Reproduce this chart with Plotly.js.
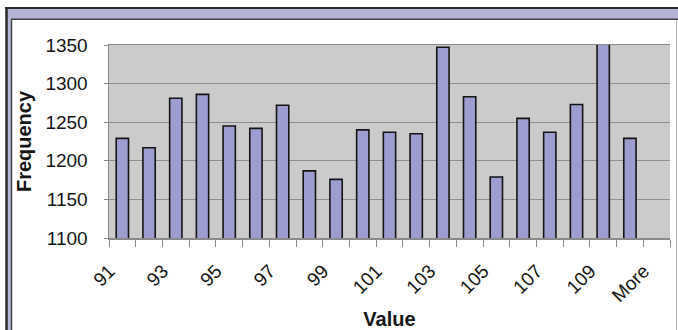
<!DOCTYPE html>
<html>
<head>
<meta charset="utf-8">
<script src="https://cdn.plot.ly/plotly-3.0.1.min.js"></script>
<style>
  html, body { margin: 0; padding: 0; background: #ffffff; }
  #chart { width: 678px; height: 330px; }
</style>
</head>
<body>
<div id="chart"></div>
<script>
// ---- data ----
const bins = ["91","92","93","94","95","96","97","98","99","100",
              "101","102","103","104","105","106","107","108","109","110","More"];
const frequency = [1229, 1217, 1281, 1286, 1245, 1242, 1272, 1187, 1176, 1240,
                   1237, 1235, 1347, 1283, 1179, 1255, 1237, 1273, 1352, 1229, 0];
const tickText = bins.map((c, i) => (i % 2 === 0 ? c : ""));
const yTicks = [1100, 1150, 1200, 1250, 1300, 1350];
// ---- end data ----

const W = 678, H = 330;
const PL = 109, PR = 670, PT = 45, PB = 238;
const fx = px => (px - PL) / (PR - PL);
const fy = py => (PB - py) / (PB - PT);

const lav = '#b3b3d6';
const dark = '#2a2a2a';

const shapes = [
  {type:'rect', xref:'paper', yref:'paper', x0:fx(6), x1:fx(700), y0:fy(8), y1:fy(19),
   fillcolor:lav, line:{width:0}, layer:'below'},
  {type:'rect', xref:'paper', yref:'paper', x0:fx(6), x1:fx(11.5), y0:fy(8), y1:fy(400),
   fillcolor:lav, line:{width:0}, layer:'below'},
  {type:'line', xref:'paper', yref:'paper', x0:fx(5), x1:fx(700), y0:fy(8), y1:fy(8),
   line:{color:dark, width:2}, layer:'below'},
  {type:'line', xref:'paper', yref:'paper', x0:fx(6.5), x1:fx(6.5), y0:fy(7), y1:fy(400),
   line:{color:dark, width:2.5}, layer:'below'},
  {type:'line', xref:'paper', yref:'paper', x0:fx(11), x1:fx(700), y0:fy(19.3), y1:fy(19.3),
   line:{color:'#444', width:1.5}, layer:'below'},
  {type:'line', xref:'paper', yref:'paper', x0:fx(11.5), x1:fx(11.5), y0:fy(19), y1:fy(400),
   line:{color:'#444', width:1.5}, layer:'below'},
  {type:'line', xref:'paper', yref:'paper', x0:fx(676.5), x1:fx(676.5), y0:fy(20), y1:fy(400),
   line:{color:'#bbbbbb', width:1}, layer:'below'}
];

const trace = {
  type: 'bar',
  x: bins,
  y: frequency,
  marker: { color: '#9d9dcf', line: { color: '#151515', width: 1.6 } },
  hoverinfo: 'x+y'
};

const font = 'Liberation Sans, Arial, sans-serif';

const layout = {
  width: W, height: H,
  margin: { l: PL, r: W - PR, t: PT, b: H - PB, pad: 0 },
  paper_bgcolor: '#ffffff',
  plot_bgcolor: '#cbcbcb',
  showlegend: false,
  bargap: 0.54,
  font: { family: font, color: '#151515' },
  xaxis: {
    type: 'category',
    tickmode: 'array',
    tickvals: bins,
    ticktext: tickText,
    tickson: 'boundaries',
    ticks: 'outside',
    ticklen: 7,
    tickwidth: 1,
    tickcolor: '#8a8a8a',
    tickangle: -45,
    ticklabelstandoff: 13,
    ticklabelshift: -13,
    tickfont: { family: font, size: 19, color: '#151515' },
    showline: true,
    linecolor: '#8a8a8a',
    linewidth: 1.5,
    mirror: true,
    showgrid: false,
    zeroline: false,
    automargin: false,
    title: { text: '<b>Value</b>', font: { family: font, size: 20, color: '#151515' }, standoff: 28 }
  },
  yaxis: {
    range: [1100, 1350],
    tickmode: 'array',
    tickvals: yTicks,
    ticks: 'outside',
    ticklen: 4,
    tickcolor: '#8a8a8a',
    ticklabelstandoff: 12,
    tickfont: { family: font, size: 19, color: '#151515' },
    showgrid: true,
    gridcolor: '#8f8f8f',
    gridwidth: 1,
    showline: true,
    linecolor: '#8a8a8a',
    linewidth: 1.5,
    zeroline: false,
    automargin: false,
    title: { text: '<b>Frequency</b>', font: { family: font, size: 20, color: '#151515' }, standoff: 8 }
  },
  shapes: shapes
};

Plotly.newPlot('chart', [trace], layout, { staticPlot: true, displayModeBar: false });
</script>
</body>
</html>
